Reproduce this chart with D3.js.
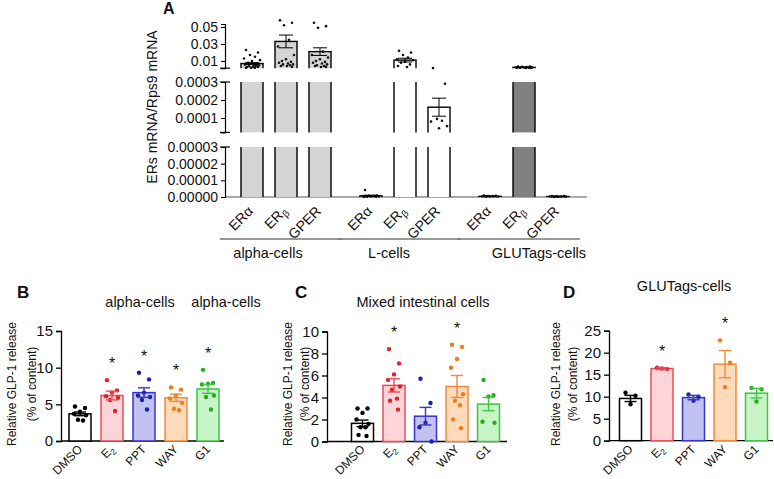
<!DOCTYPE html>
<html><head><meta charset="utf-8">
<script src="https://cdn.jsdelivr.net/npm/d3@7"></script>
<style>body{margin:0;background:#fff;} svg{display:block;} text{font-family:"Liberation Sans",Arial,sans-serif;fill:#111;}</style>
</head><body><svg id="c" width="774" height="479"></svg>
<script>
// ---------------- Panel A data ----------------
const aGroups = ["alpha-cells", "L-cells", "GLUTags-cells"];
const aReceptors = ["ERα", "ERβ", "GPER"];
const aMeans = [[0.007, 0.033, 0.021], [0.0000007, 0.011, 0.00016], [0.0000004, 0.0025, 0.0000003]];
const aSem = [[0.001, 0.0075, 0.0045], [0.0000004, 0.0022, 0.00005], [0.0000002, 0.0003, 0.0000002]];
const aPoints = [
  [[0.023,0.020,0.017,0.015,0.013,0.011,0.010,0.008,0.007,0.006,0.005,0.005,0.004,0.004,0.003,0.003,0.003,0.002,0.002,0.002],
   [0.058,0.055,0.052,0.035,0.027,0.017,0.012,0.010,0.009,0.008,0.007,0.006,0.006,0.005,0.004,0.004,0.003],
   [0.055,0.051,0.049,0.021,0.017,0.014,0.012,0.010,0.009,0.008,0.007,0.006,0.005,0.004,0.004,0.003,0.003]],
  [[0.0000042,0.0000009,0.0000007,0.0000006,0.0000005,0.0000004,0.0000003,0.0000002,0.0000002,0.0000001],
   [0.022,0.020,0.017,0.014,0.012,0.011,0.009,0.008,0.006,0.004,0.003],
   [0.0016,0.00029,0.000095,0.000085,0.00008,0.000055,0.000043]],
  [[0.0000008,0.0000007,0.0000006,0.0000005,0.0000004,0.0000003,0.0000003,0.0000002],
   [0.0035,0.0033,0.0031,0.0029,0.0027,0.0025,0.0023,0.0021,0.0020,0.0019,0.0018,0.0017],
   [0.0000006,0.0000005,0.0000004,0.0000003,0.0000003,0.0000002,0.0000002,0.0000001]]
];
const aTicksTop = [0.01, 0.03, 0.05];
const aTicksMid = [0.0001, 0.0002, 0.0003];
const aTicksBot = [0, 0.00001, 0.00002, 0.00003];
const aYLabel = "ERs mRNA/Rps9 mRNA";

// ---------------- Panels B-D data ----------------
const treatments = ["DMSO", "E2", "PPT", "WAY", "G1"];
const bMeans = [3.7, 6.2, 6.6, 5.9, 7.1];
const bSem = [0.25, 0.6, 0.65, 0.5, 0.6];
const bPoints = [
  [4.7,4.5,4.0,3.7,3.5,2.9,2.8],
  [8.3,6.9,6.6,6.1,5.9,5.6,4.1],
  [9.3,8.4,6.6,6.2,6.0,5.6,4.3],
  [7.3,7.0,6.2,5.8,5.2,4.4,4.2],
  [9.7,7.9,7.8,7.7,6.2,6.0,4.3]];
const bStars = [false, true, true, true, true];
const bTicks = [0, 5, 10, 15];

const cMeans = [1.65, 5.1, 2.3, 5.0, 3.4];
const cSem = [0.3, 0.6, 0.8, 1.0, 0.6];
const cPoints = [
  [3.0,3.0,2.6,2.0,1.6,1.3,1.3,0.6,0.5],
  [8.4,7.1,6.1,5.6,5.0,4.7,3.9,3.7,2.9],
  [5.7,3.5,1.7,1.3,0.0],
  [8.8,8.6,7.5,6.7,4.3,3.7,3.3,2.0,1.2],
  [5.6,4.2,4.1,1.8,1.7]];
const cStars = [false, true, false, true, false];
const cTicks = [0, 2, 4, 6, 8, 10];

const dMeans = [9.6, 16.4, 9.8, 17.4, 10.8];
const dSem = [0.7, 0.2, 0.5, 3.1, 1.1];
const dPoints = [
  [10.9,10.2,8.3],
  [16.6,16.3,16.4],
  [10.5,10.0,9.1],
  [22.8,17.7,12.2],
  [12.0,11.7,8.9]];
const dStars = [false, true, false, true, false];
const dTicks = [0, 5, 10, 15, 20, 25];

const yLabelLines = ["Relative GLP-1 release", "(% of content)"];

// ---------------- styles ----------------
const tFill = ["#ffffff", "#fdd4d8", "#c2c2f2", "#fddab9", "#c7f5c7"];
const tStroke = ["#000000", "#ea4d57", "#3535c6", "#f08a3c", "#40c640"];
const tDot = ["#000000", "#e0202b", "#1e1eb2", "#ef7d1e", "#22b022"];
const aFill = [["#d4d4d4","#d4d4d4","#d4d4d4"],["#ffffff","#ffffff","#ffffff"],["#ffffff","#808080","#ffffff"]];

const svg = d3.select("#c");
const FONT = '"Liberation Sans", Arial, sans-serif';

function labelText(sel, lab, size) {
  if (lab === "E2") { sel.text("E"); sel.append("tspan").attr("font-size", size*0.7).attr("dy", 3).text("2"); }
  else if (lab === "ERβ") { sel.text("ER"); sel.append("tspan").attr("font-size", size*0.7).attr("dy", 3).text("β"); }
  else sel.text(lab);
}

// ================= Panel A =================
const xA = d3.scaleLinear().domain([0, 9]).range([252, 558]);
const posA = (g, r) => xA(g * 3.5 + r);
const segs = [
  {y: d3.scaleLinear().domain([0.0015, 0.0535]).range([68.2, 24]), ticks: aTicksTop, fmt: d3.format(".2f"), top: true},
  {y: d3.scaleLinear().domain([0.00002, 0.0003]).range([132.4, 82]), ticks: aTicksMid, fmt: d3.format(".4f")},
  {y: d3.scaleLinear().domain([0, 0.00003]).range([197, 147]), ticks: aTicksBot, fmt: d3.format(".5f"), bottom: true}
];
const axX = 225;
const gA = svg.append("g");
gA.append("line").attr("x1", axX).attr("x2", 587).attr("y1", 197).attr("y2", 197).attr("stroke", "#8c8c8c").attr("stroke-width", 1.5);

const barW = 22;
function segOf(v) {
  for (const s of segs) { const [lo, hi] = s.y.domain(); if (v >= lo && v <= hi) return s; }
  if (v > segs[0].y.domain()[1]) return segs[0];
  return null;
}
const jA = [-6,6,-2,3,-8,8,0,-4,5,-7,2,7,-3,4,-5,1,6,-1,-6,3];
aGroups.forEach((gname, gi) => aReceptors.forEach((r, ri) => {
  const m = aMeans[gi][ri], cx = posA(gi, ri);
  segs.forEach(s => {
    const [lo, hi] = s.y.domain();
    if (!s.bottom && m <= lo) return;
    const yT = s.y(Math.min(m, hi)), yB = s.y(lo);
    gA.append("rect").attr("x", cx - barW/2).attr("width", barW).attr("y", yT).attr("height", Math.max(yB - yT, 0.8)).attr("fill", aFill[gi][ri]);
    [cx - barW/2, cx + barW/2].forEach(x => gA.append("line").attr("x1", x).attr("x2", x).attr("y1", yT).attr("y2", yB).attr("stroke", "#000").attr("stroke-width", 1.4));
    if (m <= hi) gA.append("line").attr("x1", cx - barW/2 - 0.7).attr("x2", cx + barW/2 + 0.7).attr("y1", yT).attr("y2", yT).attr("stroke", "#000").attr("stroke-width", 1.4);
  });
  aPoints[gi][ri].forEach((v, i) => {
    const s = segOf(v); if (!s) return;
    gA.append("circle").attr("cx", cx + jA[i % jA.length]).attr("cy", s.y(v)).attr("r", 1.3).attr("fill", "#111");
  });
  const s = segOf(m);
  if (s) {
    const e = aSem[gi][ri];
    const [lo, hi] = s.y.domain();
    const y1 = s.y(Math.max(m - e, lo)), y2 = s.y(m + e);
    gA.append("line").attr("x1", cx).attr("x2", cx).attr("y1", y1).attr("y2", y2).attr("stroke", "#000").attr("stroke-width", 1);
    [y2, (m - e) >= lo ? y1 : null].forEach(y => { if (y != null) gA.append("line").attr("x1", cx - 7).attr("x2", cx + 7).attr("y1", y).attr("y2", y).attr("stroke", "#000").attr("stroke-width", 1); });
  }
}));
segs.forEach(s => {
  const g = gA.append("g").attr("transform", `translate(${axX},0)`)
    .call(d3.axisLeft(s.y).tickValues(s.ticks).tickFormat(s.fmt).tickSizeOuter(0).tickSize(4).tickPadding(3));
  g.selectAll("text").style("font-size", "14px").style("font-family", FONT).attr("fill", "#111");
  g.selectAll("line").attr("stroke-width", 1.1);
  g.select(".domain").attr("stroke-width", 1.2);
  const r = s.y.range();
  const caps = s.top ? [r[0]] : s.bottom ? [r[1]] : r;
  caps.forEach(y => g.append("line").attr("x1", -5).attr("x2", 5).attr("y1", y).attr("y2", y).attr("stroke", "#000").attr("stroke-width", 1.2));
});
aGroups.forEach((gname, gi) => aReceptors.forEach((r, ri) => {
  const cx = posA(gi, ri);
  const t = gA.append("text").attr("text-anchor", "end").attr("font-size", 14)
    .attr("transform", `translate(${cx + 2},212) rotate(-45)`);
  labelText(t, r, 14);
}));
const groupLabelPos = [0.47, 4.03, 8.44];
aGroups.forEach((gname, gi) => {
  gA.append("line").attr("x1", xA(gi * 3.5 - 0.95)).attr("x2", xA(gi * 3.5 + 2.65)).attr("y1", 239).attr("y2", 239).attr("stroke", "#777").attr("stroke-width", 1.6);
  gA.append("text").attr("x", xA(groupLabelPos[gi])).attr("y", 258).attr("text-anchor", "middle").attr("font-size", 14.5).text(gname);
});
gA.append("text").attr("transform", "translate(157,107) rotate(-90)").attr("text-anchor", "middle").attr("font-size", 14).text(aYLabel);
gA.append("text").attr("x", 163).attr("y", 14).attr("font-size", 16).attr("font-weight", "bold").text("A");

// ================= Panels B-D =================
function panel(cfg) {
  const g = svg.append("g");
  const y = d3.scaleLinear().domain([0, d3.max(cfg.ticks)]).range(cfg.yRange);
  const x = d3.scaleBand().domain(treatments).range(cfg.xRange);
  const bw = 22;
  const jit = [-5, 5, 0, -6, 6, -2, 3, -4, 4];
  g.append("line").attr("x1", cfg.axisX).attr("x2", cfg.axisEnd).attr("y1", y(0)).attr("y2", y(0)).attr("stroke", "#000").attr("stroke-width", 1.3);
  treatments.forEach((t, i) => {
    const cx = x(t) + x.bandwidth() / 2;
    g.append("rect").attr("x", cx - bw/2).attr("width", bw).attr("y", y(cfg.means[i])).attr("height", y(0) - y(cfg.means[i]))
      .attr("fill", tFill[i]).attr("stroke", tStroke[i]).attr("stroke-width", 1.5);
    cfg.pts[i].forEach((v, k) => g.append("circle").attr("cx", cx + jit[k % jit.length]).attr("cy", y(v)).attr("r", 2.2).attr("fill", tDot[i]));
    const e = cfg.sem[i], m = cfg.means[i];
    g.append("line").attr("x1", cx).attr("x2", cx).attr("y1", y(m - e)).attr("y2", y(m + e)).attr("stroke", tStroke[i]).attr("stroke-width", 1.4);
    [m - e, m + e].forEach(v => g.append("line").attr("x1", cx - 6).attr("x2", cx + 6).attr("y1", y(v)).attr("y2", y(v)).attr("stroke", tStroke[i]).attr("stroke-width", 1.4));
    if (cfg.stars[i]) {
      const top = Math.max(d3.max(cfg.pts[i]), m + e);
      g.append("text").attr("x", cx).attr("y", y(top) - 20 + 9).attr("text-anchor", "middle").attr("font-size", 16).text("*");
    }
    const lt = g.append("text").attr("text-anchor", "end").attr("font-size", 12)
      .attr("transform", `translate(${cx + 3},450) rotate(-45)`);
    labelText(lt, t, 12);
  });
  const ax = g.append("g").attr("transform", `translate(${cfg.axisX},0)`)
    .call(d3.axisLeft(y).tickValues(cfg.ticks).tickSizeOuter(0).tickSize(5).tickPadding(3));
  ax.selectAll("text").style("font-size", "15px").style("font-family", FONT).attr("fill", "#111");
  ax.selectAll("line").attr("stroke-width", 1.3);
  ax.select(".domain").attr("stroke-width", 1.3);
  yLabelLines.forEach((l, i) => g.append("text").attr("transform", `translate(${cfg.ylabX[i]},384) rotate(-90)`)
    .attr("text-anchor", "middle").attr("font-size", 12).text(l));
  cfg.titles.forEach(tt => g.append("text").attr("x", tt[0]).attr("y", tt[1]).attr("text-anchor", "middle").attr("font-size", 14.5).text(tt[2]));
  g.append("text").attr("x", cfg.letter[0]).attr("y", 298).attr("font-size", 17).attr("font-weight", "bold").text(cfg.letter[1]);
}

panel({means: bMeans, sem: bSem, pts: bPoints, stars: bStars, ticks: bTicks, yRange: [441, 331], xRange: [64, 224],
  axisX: 61, axisEnd: 224, ylabX: [16, 36], titles: [[140, 307, "alpha-cells"], [226, 307, "alpha-cells"]], letter: [17, "B"]});
panel({means: cMeans, sem: cSem, pts: cPoints, stars: cStars, ticks: cTicks, yRange: [441.5, 331.5], xRange: [346.75, 504.25],
  axisX: 327, axisEnd: 507, ylabX: [292, 309], titles: [[423, 307, "Mixed intestinal cells"]], letter: [295, "C"]});
panel({means: dMeans, sem: dSem, pts: dPoints, stars: dStars, ticks: dTicks, yRange: [440.7, 330.7], xRange: [614.75, 772.25],
  axisX: 609, axisEnd: 773, ylabX: [560, 577], titles: [[684, 291, "GLUTags-cells"]], letter: [563, "D"]});
</script></body></html>
